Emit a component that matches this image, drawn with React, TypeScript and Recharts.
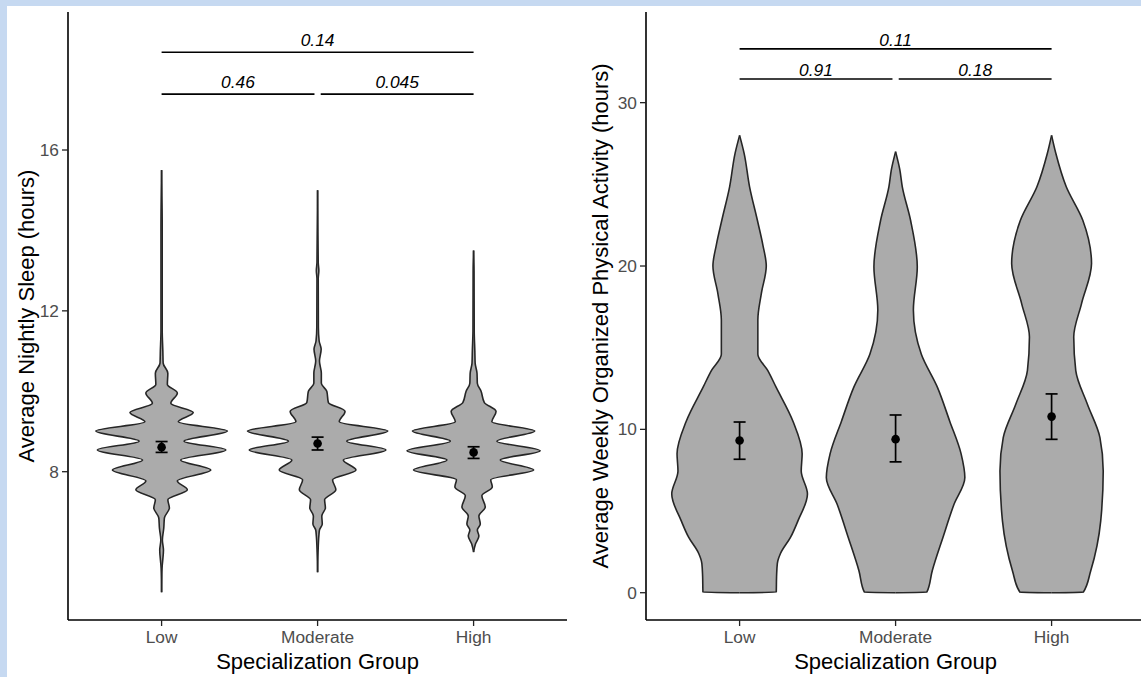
import React from 'react';
import { ComposedChart, Area, Scatter, ErrorBar, XAxis, YAxis, ReferenceLine } from 'recharts';

type Pt = [number, number];

// 그룹 이름
const groups = ['Low', 'Moderate', 'High'];

// violin outlines: [value, half width in group units]
const sleepLow: Pt[] = [
  [5.0, 0], [5.6, 0.003], [6.05, 0.012], [6.3, 0.005], [6.6, 0.014], [6.85, 0.018],
  [7.1, 0.05], [7.3, 0.04], [7.55, 0.165], [7.77, 0.101], [8.04, 0.315], [8.29, 0.122],
  [8.54, 0.412], [8.76, 0.144], [9.01, 0.422], [9.24, 0.107], [9.47, 0.203], [9.7, 0.059],
  [9.96, 0.101], [10.17, 0.037], [10.45, 0.04], [10.7, 0.01], [11.0, 0.008], [11.5, 0.004],
  [14.0, 0.004], [15.5, 0],
];
const sleepModerate: Pt[] = [
  [5.5, 0], [6.0, 0.003], [6.4, 0.008], [6.55, 0.012], [6.7, 0.03], [6.9, 0.027],
  [7.1, 0.05], [7.3, 0.045], [7.55, 0.117], [7.8, 0.096], [8.04, 0.246], [8.29, 0.165],
  [8.54, 0.438], [8.76, 0.187], [9.01, 0.45], [9.24, 0.139], [9.5, 0.176], [9.72, 0.069],
  [10.0, 0.059], [10.2, 0.024], [10.45, 0.024], [10.75, 0.012], [11.05, 0.023], [11.25, 0.01],
  [11.6, 0.005], [12.8, 0.004], [13.0, 0.008], [13.2, 0.004], [15.0, 0],
];
const sleepHigh: Pt[] = [
  [6.0, 0], [6.2, 0.012], [6.4, 0.034], [6.55, 0.024], [6.7, 0.043], [6.9, 0.034],
  [7.12, 0.075], [7.4, 0.053], [7.62, 0.12], [7.8, 0.11], [8.04, 0.385], [8.29, 0.171],
  [8.52, 0.427], [8.76, 0.149], [9.01, 0.392], [9.24, 0.117], [9.5, 0.144], [9.72, 0.069],
  [10.0, 0.048], [10.2, 0.024], [10.45, 0.022], [10.7, 0.01], [11.0, 0.008], [11.5, 0.004],
  [13.0, 0.003], [13.5, 0],
];

const actLow: Pt[] = [
  [0, 0], [0.03, 0.235], [1.0, 0.237], [1.8, 0.242], [2.4, 0.262], [3.4, 0.327], [4.4, 0.374],
  [6.05, 0.435], [7.45, 0.395], [8.5, 0.401], [10.5, 0.342], [12.6, 0.233], [13.6, 0.181],
  [14.6, 0.117], [16.7, 0.117], [18.3, 0.139], [20.0, 0.171], [21.3, 0.149], [22.8, 0.114],
  [24.85, 0.064], [26.9, 0.029], [28.0, 0],
];
const actModerate: Pt[] = [
  [0, 0], [0.03, 0.2], [1.35, 0.235], [3.4, 0.304], [5.4, 0.374], [7.05, 0.444], [8.5, 0.42],
  [10.5, 0.347], [12.6, 0.267], [14.6, 0.165], [17.3, 0.114], [19.95, 0.139], [22.8, 0.096],
  [24.85, 0.043], [25.9, 0.027], [27.0, 0],
];
const actHigh: Pt[] = [
  [0, 0], [0.03, 0.203], [1.35, 0.251], [4.4, 0.315], [7.45, 0.331], [9.5, 0.31], [11.55, 0.229],
  [13.6, 0.155], [15.65, 0.142], [17.7, 0.192], [20.15, 0.256], [22.8, 0.2], [24.85, 0.094],
  [26.9, 0.027], [28.0, 0],
];

// 평균 및 오차 막대
const sleepMean = [8.61, 8.7, 8.48];
const sleepLower = [8.48, 8.54, 8.33];
const sleepUpper = [8.75, 8.86, 8.62];
const actMean = [9.32, 9.4, 10.78];
const actLower = [8.17, 8.01, 9.39];
const actUpper = [10.45, 10.88, 12.17];

const sleepTicks = [8, 12, 16];
const actTicks = [0, 10, 20, 30];

const sleepBrackets = [
  { from: 1, to: 3, y: 18.43, p: '0.14' },
  { from: 1, to: 1.98, y: 17.39, p: '0.46' },
  { from: 2.02, to: 3, y: 17.39, p: '0.045' },
];
const actBrackets = [
  { from: 1, to: 3, y: 33.29, p: '0.11' },
  { from: 1, to: 1.98, y: 31.45, p: '0.91' },
  { from: 2.02, to: 3, y: 31.45, p: '0.18' },
];

function buildRows(violins: Pt[][]) {
  const map = new Map<number, any>();
  violins.forEach((pts, i) =>
    pts.forEach(([v, w]) => {
      const row = map.get(v) ?? { v };
      row['w' + i] = w;
      map.set(v, row);
    })
  );
  return [...map.values()].sort((a, b) => a.v - b.v);
}

function buildMeans(mean: number[], lo: number[], hi: number[]) {
  return mean.map((m, i) => ({ pos: i + 1, v: m, err: [m - lo[i], hi[i] - m] }));
}

const FONT = '"Liberation Sans", Arial, sans-serif';

const PLabel = ({ viewBox, text, gap }: any) => {
  if (!viewBox) return null;
  return (
    <text x={viewBox.x + viewBox.width / 2} y={viewBox.y - gap} textAnchor="middle"
      fontSize={17.4} fontStyle="italic" fill="#000">
      {text}
    </text>
  );
};

const YTitle = ({ viewBox, text, x }: any) => {
  const cy = viewBox ? viewBox.y + viewBox.height / 2 : 316;
  return (
    <text x={x} y={cy} transform={`rotate(-90, ${x}, ${cy})`} textAnchor="middle" fontSize={22} fill="#000">
      {text}
    </text>
  );
};

const XTitle = ({ viewBox }: any) => {
  const cx = viewBox ? viewBox.x + viewBox.width / 2 : 300;
  return (
    <text x={cx} y={669} textAnchor="middle" fontSize={22} fill="#000">
      Specialization Group
    </text>
  );
};

const MeanDot = (props: any) => <circle cx={props.cx} cy={props.cy} r={4.3} fill="#000" />;

interface PanelProps {
  left: number;
  width: number;
  axisWidth: number;
  rows: any[];
  means: any[];
  domain: [number, number];
  ticks: number[];
  brackets: { from: number; to: number; y: number; p: string }[];
  yTitle: string;
  yTitleX: number;
  gap: number;
}

const Panel: React.FC<PanelProps> = ({ left, width, axisWidth, rows, means, domain, ticks, brackets, yTitle, yTitleX, gap }) => (
  <div style={{ position: 'absolute', left, top: 0 }}>
    <ComposedChart layout="vertical" width={width} height={677} data={rows}
      margin={{ top: 12, right: 0, bottom: 0, left: 0 }}>
      <XAxis type="number" dataKey="pos" domain={[0.4, 3.6]} allowDataOverflow ticks={[1, 2, 3]}
        tickFormatter={(t) => groups[t - 1]} height={57} tickSize={6} tickMargin={5}
        axisLine={{ stroke: '#000', strokeWidth: 1.6 }} tickLine={{ stroke: '#222', strokeWidth: 1.3 }}
        tick={{ fill: '#4d4d4d', fontSize: 17.3 }} label={<XTitle />} />
      <YAxis type="number" dataKey="v" domain={domain} allowDataOverflow reversed ticks={ticks} width={axisWidth}
        tickSize={6} tickMargin={3}
        axisLine={{ stroke: '#000', strokeWidth: 1.6 }} tickLine={{ stroke: '#222', strokeWidth: 1.3 }}
        tick={{ fill: '#4d4d4d', fontSize: 17.3 }} label={<YTitle text={yTitle} x={yTitleX} />} />
      {groups.map((g, i) => (
        <Area key={g} type="monotone" connectNulls
          dataKey={(d: any) => (d['w' + i] == null ? [null, null] : [i + 1 - d['w' + i], i + 1 + d['w' + i]])}
          fill="#ababab" fillOpacity={1} stroke="#262626" strokeWidth={1.6}
          dot={false} activeDot={false} isAnimationActive={false} />
      ))}
      {brackets.map((b) => (
        <ReferenceLine key={b.p} segment={[{ x: b.from, y: b.y }, { x: b.to, y: b.y }]}
          stroke="#000" strokeWidth={1.6} label={<PLabel text={b.p} gap={gap} />} />
      ))}
      <Scatter data={means} isAnimationActive={false} shape={<MeanDot />}>
        <ErrorBar dataKey="err" direction="y" width={6} stroke="#000" strokeWidth={1.7} />
      </Scatter>
    </ComposedChart>
  </div>
);

export default function App() {
  return (
    <>
      <style>{'body{margin:0}'}</style>
      <div style={{ position: 'relative', width: 1141, height: 677, overflow: 'hidden', background: '#c6d9f1', fontFamily: FONT }}>
        <div style={{ position: 'absolute', left: 7, top: 6, right: 0, bottom: 0, background: '#fff' }} />
        <Panel left={0} width={567.2} axisWidth={68} rows={buildRows([sleepLow, sleepModerate, sleepHigh])}
          means={buildMeans(sleepMean, sleepLower, sleepUpper)} domain={[4.312, 19.432]} ticks={sleepTicks}
          brackets={sleepBrackets} yTitle="Average Nightly Sleep (hours)" yTitleX={29} gap={6.5} />
        <Panel left={570} width={575.2} axisWidth={76} rows={buildRows([actLow, actModerate, actHigh])}
          means={buildMeans(actMean, actLower, actUpper)} domain={[-1.67, 35.55]} ticks={actTicks}
          brackets={actBrackets} yTitle="Average Weekly Organized Physical Activity (hours)" yTitleX={46} gap={2.8} />
      </div>
    </>
  );
}
